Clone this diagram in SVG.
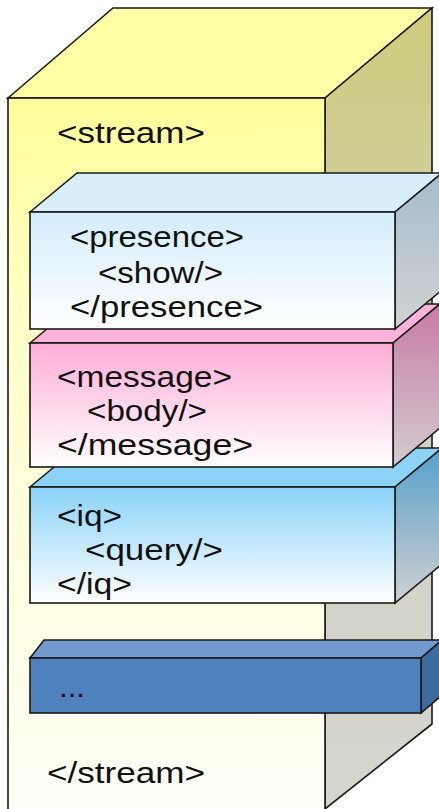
<svg xmlns="http://www.w3.org/2000/svg" width="439" height="809" viewBox="0 0 439 809">
<style>
.edge{stroke:#1a1a1a;stroke-width:1.6;stroke-linejoin:miter}
.lbl{font-family:"Liberation Sans",Arial,sans-serif;font-size:30px;fill:#111}
</style>
<defs>
<linearGradient id="gStreamFront" x1="0" y1="0" x2="0" y2="1"><stop offset="0" stop-color="#FFFF9C"/><stop offset="0.35" stop-color="#FFFFCC"/><stop offset="1" stop-color="#FFFFF8"/></linearGradient>
<linearGradient id="gStreamSide" x1="0" y1="0" x2="0" y2="1"><stop offset="0" stop-color="#CECB7D"/><stop offset="0.6" stop-color="#D3D2C6"/><stop offset="1" stop-color="#D5D5CE"/></linearGradient>
<linearGradient id="gPresFront" x1="0" y1="0" x2="0" y2="1"><stop offset="0" stop-color="#D3ECFC"/><stop offset="1" stop-color="#FFFFFF"/></linearGradient>
<linearGradient id="gPresSide" x1="0" y1="0" x2="0" y2="1"><stop offset="0" stop-color="#A4BDCC"/><stop offset="1" stop-color="#D2D2D2"/></linearGradient>
<linearGradient id="gMsgFront" x1="0" y1="0" x2="0" y2="1"><stop offset="0" stop-color="#FFADD6"/><stop offset="1" stop-color="#FFFFFF"/></linearGradient>
<linearGradient id="gMsgSide" x1="0" y1="0" x2="0" y2="1"><stop offset="0" stop-color="#C97BA4"/><stop offset="1" stop-color="#D2CCCF"/></linearGradient>
<linearGradient id="gIqFront" x1="0" y1="0" x2="0" y2="1"><stop offset="0" stop-color="#8AD2F8"/><stop offset="1" stop-color="#FFFFFF"/></linearGradient>
<linearGradient id="gIqSide" x1="0" y1="0" x2="0" y2="1"><stop offset="0" stop-color="#56A0CB"/><stop offset="1" stop-color="#D0D0D0"/></linearGradient>
</defs>
<rect width="439" height="809" fill="#FFFFFF"/>

<g id="stream">
<polygon class="edge" points="8,98 113,8 432,8 325,98" fill="#FFFFA6"/>
<polygon class="edge" points="325,98 432,8 432,724 325,809" fill="url(#gStreamSide)"/>
<rect class="edge" x="8" y="98" width="317" height="715" fill="url(#gStreamFront)"/>
<text class="lbl" x="57" y="143" textLength="148" lengthAdjust="spacingAndGlyphs">&lt;stream&gt;</text>
<text class="lbl" x="47" y="783" textLength="158" lengthAdjust="spacingAndGlyphs">&lt;/stream&gt;</text>
</g>

<g id="dots">
<polygon class="edge" points="30,658 44,640 442,640 421,658" fill="#729ACF"/>
<polygon class="edge" points="421,658 442,640 442,695 421,713" fill="#3E6B9E"/>
<rect class="edge" x="30" y="658" width="391" height="55" fill="#4F81BD"/>
<text class="lbl" x="59" y="697" textLength="26" lengthAdjust="spacingAndGlyphs">...</text>
</g>

<g id="iq">
<polygon class="edge" points="30,487 77,448 442,448 395,487" fill="#8CD3F7"/>
<polygon class="edge" points="395,487 442,448 442,564 395,603" fill="url(#gIqSide)"/>
<rect class="edge" x="30" y="487" width="365" height="116" fill="url(#gIqFront)"/>
<text class="lbl" x="57" y="526" textLength="65" lengthAdjust="spacingAndGlyphs">&lt;iq&gt;</text>
<text class="lbl" x="85" y="560" textLength="138" lengthAdjust="spacingAndGlyphs">&lt;query/&gt;</text>
<text class="lbl" x="57" y="594" textLength="75" lengthAdjust="spacingAndGlyphs">&lt;/iq&gt;</text>
</g>

<g id="message">
<polygon class="edge" points="30,343 77,304 440,304 393,343" fill="#FFB2DA"/>
<polygon class="edge" points="393,343 440,304 440,428 393,467" fill="url(#gMsgSide)"/>
<rect class="edge" x="30" y="343" width="363" height="124" fill="url(#gMsgFront)"/>
<text class="lbl" x="57" y="387" textLength="175" lengthAdjust="spacingAndGlyphs">&lt;message&gt;</text>
<text class="lbl" x="87" y="421" textLength="120" lengthAdjust="spacingAndGlyphs">&lt;body/&gt;</text>
<text class="lbl" x="57" y="455" textLength="196" lengthAdjust="spacingAndGlyphs">&lt;/message&gt;</text>
</g>

<g id="presence">
<polygon class="edge" points="30,212 77,173 442,173 395,212" fill="#D8EEFB"/>
<polygon class="edge" points="395,212 442,173 442,290 395,329" fill="url(#gPresSide)"/>
<rect class="edge" x="30" y="212" width="365" height="117" fill="url(#gPresFront)"/>
<text class="lbl" x="70" y="247" textLength="174" lengthAdjust="spacingAndGlyphs">&lt;presence&gt;</text>
<text class="lbl" x="98" y="283" textLength="125" lengthAdjust="spacingAndGlyphs">&lt;show/&gt;</text>
<text class="lbl" x="70" y="317" textLength="193" lengthAdjust="spacingAndGlyphs">&lt;/presence&gt;</text>
</g>

<g id="connectors"></g>
</svg>
